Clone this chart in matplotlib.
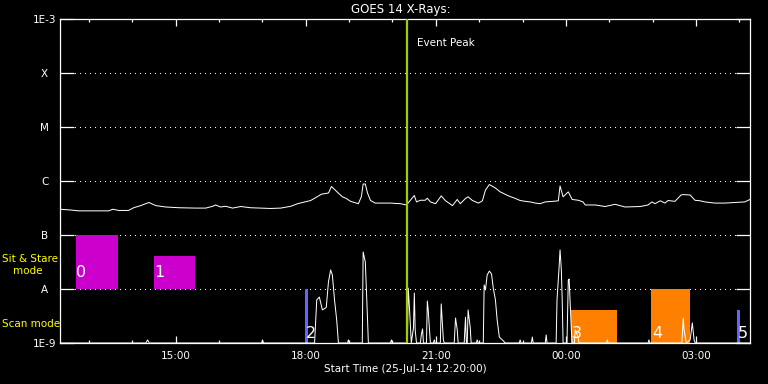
import matplotlib
matplotlib.use('Agg')
import matplotlib.pyplot as plt

# hours after the start time 12:20 on 25-Jul-14
start_clock = '12:20'
end_hours = 15.91

# GOES long channel (W/m^2)
goes_hours = [0.0, 0.25, 0.43, 0.71, 0.94, 1.12, 1.22, 1.35, 1.58, 1.70,
              1.86, 2.05, 2.21, 2.44, 2.74, 3.13, 3.36, 3.52, 3.59, 3.70,
              3.82, 3.98, 4.17, 4.39, 4.62, 4.85, 5.09, 5.32, 5.48, 5.78,
              6.03, 6.19, 6.26, 6.37, 6.51, 6.60, 6.70, 6.88, 6.95, 6.99,
              7.04, 7.09, 7.16, 7.27, 7.62, 7.85, 7.99, 8.17, 8.22, 8.31,
              8.42, 8.47, 8.54, 8.66, 8.79, 8.89, 9.05, 9.16, 9.23, 9.35,
              9.41, 9.51, 9.65, 9.74, 9.81, 9.90, 10.04, 10.15, 10.34, 10.50,
              10.61, 10.73, 10.84, 10.96, 11.07, 11.19, 11.37, 11.49, 11.53, 11.60,
              11.72, 11.81, 11.95, 12.06, 12.11, 12.34, 12.57, 12.80, 13.03, 13.38,
              13.56, 13.65, 13.72, 13.84, 13.95, 14.02, 14.18, 14.32, 14.37, 14.53,
              14.64, 14.76, 14.87, 15.10, 15.33, 15.56, 15.79, 15.91]
goes_flux = [3.0e-7, 2.9e-7, 2.8e-7, 2.8e-7, 2.8e-7, 2.8e-7, 3.0e-7, 2.85e-7, 2.85e-7, 3.2e-7,
             3.5e-7, 4.0e-7, 3.5e-7, 3.3e-7, 3.2e-7, 3.15e-7, 3.15e-7, 3.4e-7, 3.6e-7, 3.3e-7,
             3.4e-7, 3.15e-7, 3.37e-7, 3.2e-7, 3.15e-7, 3.1e-7, 3.15e-7, 3.4e-7, 3.8e-7, 4.35e-7,
             5.7e-7, 6.0e-7, 7.9e-7, 6.5e-7, 5.1e-7, 4.75e-7, 4.2e-7, 3.8e-7, 5.15e-7, 8.8e-7,
             8.8e-7, 6.0e-7, 4.35e-7, 3.9e-7, 3.9e-7, 3.8e-7, 3.6e-7, 5.4e-7, 4.1e-7, 4.4e-7,
             4.4e-7, 4.8e-7, 4.1e-7, 3.8e-7, 5.3e-7, 4.3e-7, 3.5e-7, 4.55e-7, 3.8e-7, 4.75e-7,
             5.1e-7, 4.35e-7, 3.9e-7, 4.3e-7, 6.8e-7, 8.6e-7, 7.4e-7, 6.3e-7, 5.3e-7, 4.75e-7,
             4.35e-7, 4.2e-7, 4.1e-7, 3.9e-7, 3.8e-7, 4.1e-7, 4.2e-7, 4.3e-7, 8.1e-7, 5.1e-7,
             6.3e-7, 4.55e-7, 4.4e-7, 4.1e-7, 3.6e-7, 3.6e-7, 3.37e-7, 3.7e-7, 3.3e-7, 3.37e-7,
             3.6e-7, 4.1e-7, 3.8e-7, 4.3e-7, 3.9e-7, 4.35e-7, 4.2e-7, 5.5e-7, 5.6e-7, 5.5e-7,
             4.4e-7, 4.3e-7, 4.1e-7, 3.9e-7, 3.9e-7, 4.0e-7, 4.1e-7, 4.55e-7]

# derivative-like trace drawn along the bottom
deriv_hours = [0.0,
               1.98, 2.02, 2.06,
               4.65, 4.67, 4.69,
               5.87, 5.92, 5.98, 6.05, 6.12, 6.14, 6.19, 6.24, 6.28, 6.33, 6.38, 6.42,
               6.63, 6.65, 6.67,
               6.97, 6.99, 7.04, 7.09, 7.11,
               7.62, 7.64, 7.66,
               8.01, 8.03, 8.06, 8.10, 8.15, 8.17, 8.19, 8.22,
               8.31, 8.33, 8.36, 8.38,
               8.45, 8.47, 8.49, 8.52, 8.54,
               8.61, 8.63, 8.65,
               8.77, 8.79, 8.84, 8.86,
               9.09, 9.12, 9.16, 9.18,
               9.32, 9.35, 9.37,
               9.39, 9.41, 9.46, 9.48,
               9.60, 9.62, 9.64,
               9.76, 9.78, 9.81, 9.85, 9.90, 9.95, 9.99, 10.04, 10.08, 10.13, 10.20, 10.27,
               10.59, 10.61, 10.63,
               10.87, 10.89, 10.91,
               11.19, 11.21, 11.23,
               11.44, 11.46, 11.51, 11.53, 11.56, 11.58, 11.60,
               11.69, 11.72, 11.74, 11.76, 11.79, 11.81,
               11.86, 11.88, 11.93, 11.97,
               12.60, 12.62, 12.64,
               13.56, 13.58, 13.60,
               14.34, 14.37, 14.39, 14.44, 14.53, 14.58, 14.62, 14.65,
               15.91]
deriv_flux = [1e-9,
              1e-9, 1.14e-9, 1e-9,
              1e-9, 1.14e-9, 1e-9,
              1e-9, 6.3e-9, 7.1e-9, 4.1e-9, 4.45e-9, 4.6e-9, 1.35e-8, 2.25e-8, 1.82e-8, 6.3e-9, 2.67e-9, 1e-9,
              1e-9, 1.14e-9, 1e-9,
              1e-9, 4.84e-8, 3.16e-8, 2.9e-9, 1e-9,
              1e-9, 1.14e-9, 1e-9,
              1e-9, 1.04e-8, 4.1e-9, 1e-9, 1.9e-9, 8.4e-9, 1.74e-9, 1e-9,
              1e-9, 1.41e-9, 1.82e-9, 1e-9,
              1e-9, 6.0e-9, 4.1e-9, 1.74e-9, 1e-9,
              1e-9, 1.14e-9, 1e-9,
              1e-9, 5.3e-9, 1.14e-9, 1e-9,
              1e-9, 2.9e-9, 1.74e-9, 1e-9,
              1e-9, 3.0e-9, 1e-9,
              1e-9, 4.1e-9, 1.9e-9, 1e-9,
              1e-9, 1.14e-9, 1e-9,
              1e-9, 1.19e-8, 9.6e-9, 1.82e-8, 2.15e-8, 1.9e-8, 1.04e-8, 6.3e-9, 2.67e-9, 1.29e-9, 1.14e-9, 1e-9,
              1e-9, 1.14e-9, 1e-9,
              1e-9, 1.29e-9, 1e-9,
              1e-9, 1.41e-9, 1e-9,
              1e-9, 6.3e-9, 2.67e-8, 5.3e-8, 2.25e-8, 6.3e-9, 1e-9,
              1e-9, 1.47e-8, 1.53e-8, 6.3e-9, 1.74e-9, 1e-9,
              1e-9, 1.74e-9, 1.41e-9, 1e-9,
              1e-9, 1.14e-9, 1e-9,
              1e-9, 1.14e-9, 1e-9,
              1e-9, 2.9e-9, 1.74e-9, 1e-9, 1.14e-9, 2.35e-9, 1.14e-9, 1e-9,
              1e-9]

event_peak = 8.0

# observations: start, end, top of box, kind
obs_start = [0.36, 2.16, 5.64, 11.79, 13.63, 15.61]
obs_end = [1.33, 3.11, 5.71, 12.85, 14.53, 15.68]
obs_top = [1e-7, 4.1e-8, 1e-8, 4.1e-9, 1e-8, 4.1e-9]
obs_kind = ['stare', 'stare', 'short', 'scan', 'scan', 'short']

level_flux = [1e-9, 1e-8, 1e-7, 1e-6, 1e-5, 1e-4, 1e-3]
level_names = ['1E-9', 'A', 'B', 'C', 'M', 'X', '1E-3']
tick_labels = ['15:00', '18:00', '21:00', '00:00', '03:00']

kind_color = {'stare': '#cc00cc', 'scan': '#ff8000', 'short': '#6464ff'}
kind_bottom = {'stare': 1e-8, 'scan': 1e-9, 'short': 1e-9}
kind_label_y = {'stare': 2.06e-8, 'scan': 1.53e-9, 'short': 1.53e-9}


def clock_to_hours(s):
    h, m = s.split(':')
    sh, sm = start_clock.split(':')
    mins = (int(h) * 60 + int(m) - int(sh) * 60 - int(sm)) % 1440
    return mins / 60.0


plt.rcParams['font.family'] = 'DejaVu Sans'
fig = plt.figure(figsize=(7.68, 3.84), dpi=100, facecolor='black')
ax = fig.add_axes([60 / 768, 41 / 384, 690 / 768, 324 / 384])
ax.set_facecolor('black')

ax.set_yscale('log')
ax.set_ylim(1e-9, 1e-3)
ax.set_xlim(0, end_hours)

for i in range(len(obs_start)):
    k = obs_kind[i]
    ax.fill_between([obs_start[i], obs_end[i]], kind_bottom[k], obs_top[i],
                    color=kind_color[k], lw=0, zorder=2)
    ax.text(obs_start[i] + 0.02, kind_label_y[k], str(i), color='white',
            fontsize=11.5, ha='left', va='center', zorder=5)

ax.plot(goes_hours, goes_flux, color='white', lw=0.72, zorder=3)
ax.plot(deriv_hours, deriv_flux, color='white', lw=0.72, zorder=4)

ax.axvline(event_peak, color='#a0cc00', lw=1.6, zorder=6)
ax.text(event_peak + 0.24, 3.6e-4, 'Event Peak', color='white', fontsize=7.5,
        ha='left', va='center')

# axes styling
for sp in ax.spines.values():
    sp.set_color('white')
    sp.set_linewidth(0.9)

ax.set_yticks(level_flux)
ax.set_yticklabels(level_names)
ax.yaxis.set_minor_locator(matplotlib.ticker.NullLocator())
ax.tick_params(axis='y', which='major', direction='in', length=10, width=0.9,
               color='white', labelcolor='white', labelsize=7.5, pad=11,
               left=True, right=True)
for lab in ax.get_yticklabels():
    lab.set_ha('center')
ax.grid(axis='y', which='major', color='white', lw=0.72, linestyle=(0, (1, 5)),
        antialiased=False)

ax.set_xticks([clock_to_hours(t) for t in tick_labels])
ax.set_xticklabels(tick_labels)
hour_ticks = [clock_to_hours('%02d:00' % (h % 24)) for h in range(13, 29)]
ax.set_xticks(hour_ticks, minor=True)
ax.tick_params(axis='x', which='major', direction='in', length=5, width=0.9,
               color='white', labelcolor='white', labelsize=7.5, pad=6,
               top=True, bottom=True)
ax.tick_params(axis='x', which='minor', direction='in', length=2.5, width=0.9,
               color='white', top=True, bottom=True)

ax.set_xlabel('Start Time (25-Jul-14 12:20:00)', color='white', fontsize=7.5,
              labelpad=2)
fig.text(401 / 768, 1 - 9 / 384, 'GOES 14 X-Rays:', color='white', fontsize=8.5,
         ha='center', va='center')

# mode labels on the left
fig.text(2 / 768, 1 - 259 / 384, 'Sit & Stare', color='yellow', fontsize=7.5,
         ha='left', va='center')
fig.text(13 / 768, 1 - 271 / 384, 'mode', color='yellow', fontsize=7.5,
         ha='left', va='center')
fig.text(2 / 768, 1 - 324 / 384, 'Scan mode', color='yellow', fontsize=7.5,
         ha='left', va='center')

plt.savefig('out.png', dpi=100, facecolor='black')
